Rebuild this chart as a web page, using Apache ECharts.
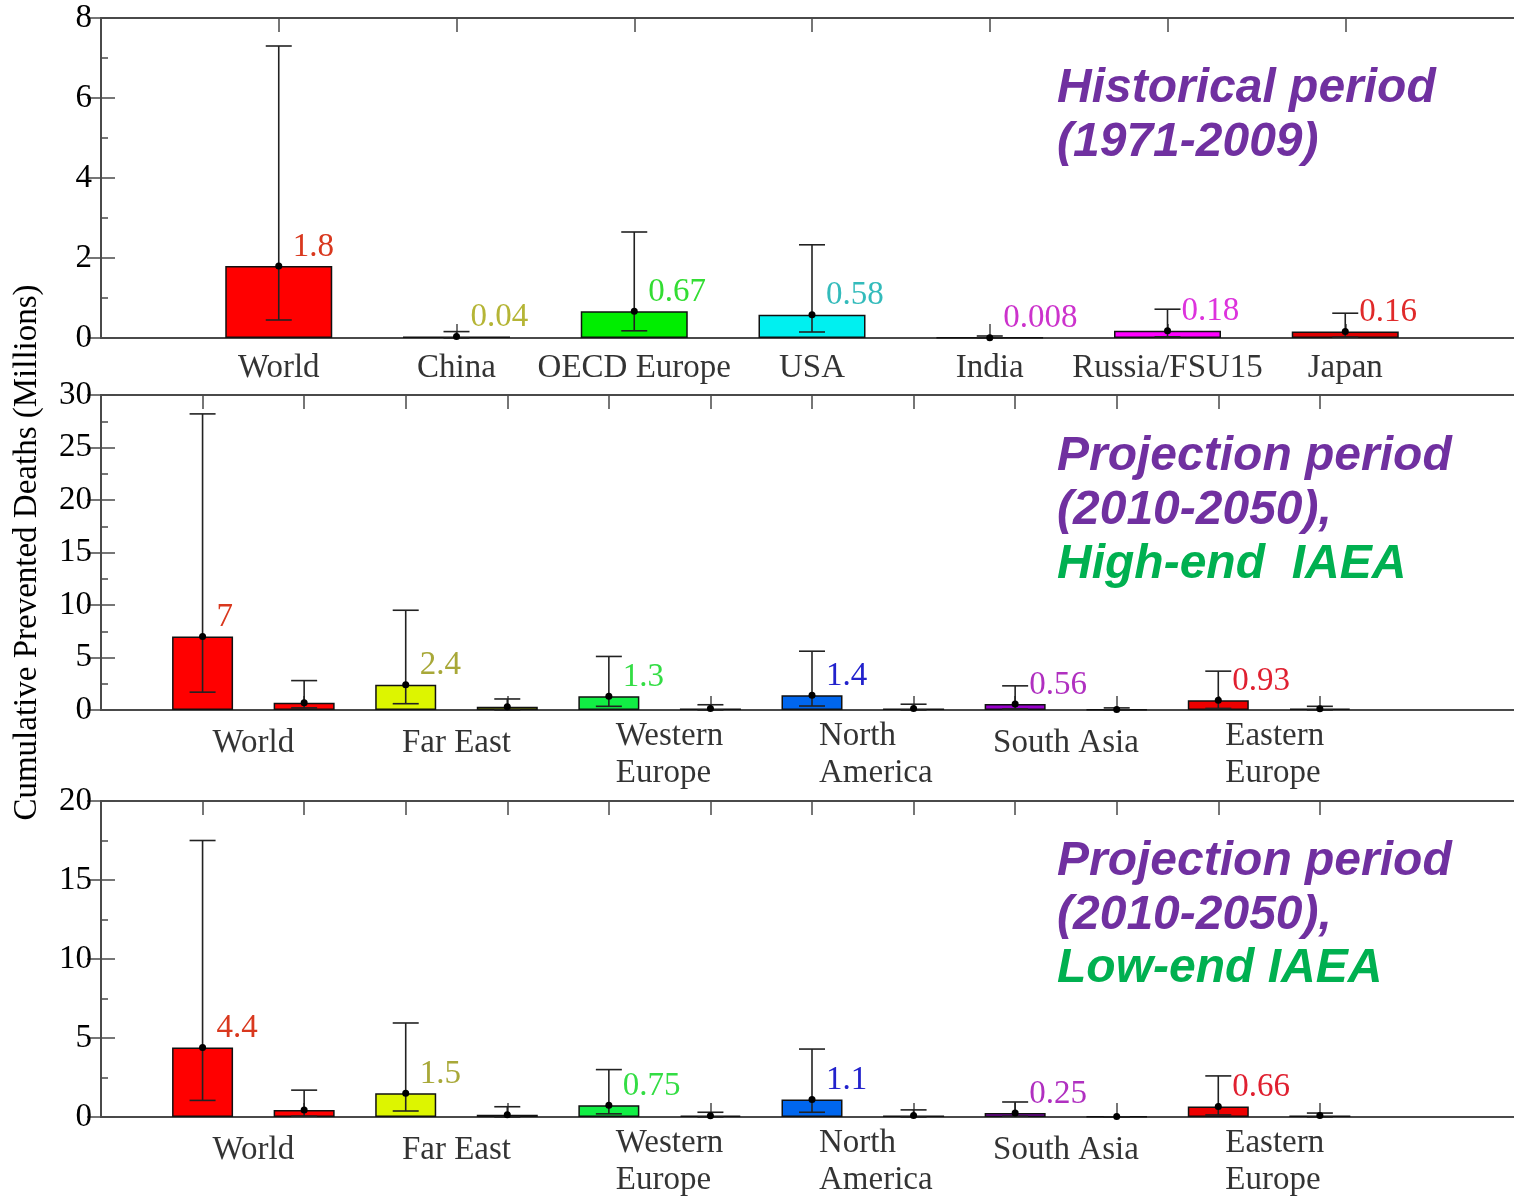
<!DOCTYPE html>
<html>
<head>
<meta charset="utf-8">
<script src="https://cdn.jsdelivr.net/npm/echarts@6/dist/echarts.min.js"></script>
<style>
html, body { margin: 0; padding: 0; background: #fff; overflow: hidden; }
#main { width: 1524px; height: 1197px; }
</style>
</head>
<body>
<div id="main"></div>
<script>
// 历史时期 (1971-2009)
var histNames = ['World', 'China', 'OECD Europe', 'USA', 'India', 'Russia/FSU15', 'Japan'];
var histValues = [1.8, 0.04, 0.67, 0.58, 0.008, 0.18, 0.16];
var histLow = [0.45, 0, 0.18, 0.15, 0, 0.03, 0.02];
var histHigh = [7.3, 0.16, 2.65, 2.33, 0.05, 0.72, 0.62];
var histColors = ['#ff0000', '#cccc00', '#00ee00', '#00f0f0', '#cc00cc', '#ff00ff', '#dd0000'];
var histLabelColors = ['#d9381e', '#b5b536', '#33dd33', '#33bbbb', '#cc33cc', '#dd33dd', '#e02a2a'];

// 预测时期地区
var regionNames = ['World', 'Far East', 'Western\nEurope', 'North\nAmerica', 'South Asia', 'Eastern\nEurope'];
var regionColors = ['#ff0000', '#ddf500', '#11ee44', '#0066ee', '#9900cc', '#ee0000'];
var regionLabelColors = ['#d9381e', '#a8a838', '#33dd44', '#2222cc', '#b030c0', '#e02030'];

// High-end IAEA
var highValues = [7, 2.4, 1.3, 1.4, 0.56, 0.93];
var highLow = [1.7, 0.6, 0.35, 0.38, 0.1, 0.15];
var highHigh = [28.2, 9.5, 5.1, 5.6, 2.3, 3.7];
var high2Values = [0.7, 0.3, 0.15, 0.15, 0.05, 0.12];
var high2Low = [0.2, 0, 0, 0, 0, 0];
var high2High = [2.8, 1.05, 0.5, 0.55, 0.2, 0.35];

// Low-end IAEA
var lowValues = [4.4, 1.5, 0.75, 1.1, 0.25, 0.66];
var lowLow = [1.05, 0.38, 0.2, 0.3, 0.05, 0.13];
var lowHigh = [17.5, 5.95, 3.0, 4.3, 0.95, 2.6];
var low2Values = [0.45, 0.15, 0.08, 0.1, 0.03, 0.1];
var low2Low = [0.05, 0, 0, 0, 0, 0];
var low2High = [1.7, 0.65, 0.3, 0.45, 0, 0.25];

var axisColor = '#4a4a4a';
var textColor = '#000';
var serif = '"Liberation Serif", "Times New Roman", serif';
var sans = '"Liberation Sans", Arial, sans-serif';
var fs = 33;

var chart = echarts.init(document.getElementById('main'));

// 误差线
var errorBarItem = function(params, api) {
	var x = api.value(0);
	var lo = api.coord([x, api.value(1)]);
	var hi = api.coord([x, api.value(2)]);
	var mid = api.coord([x, api.value(3)]);
	var hw = 13;
	var st = { stroke: '#222', lineWidth: 1.6 };
	return {
		type: 'group',
		children: [
			{ type: 'line', shape: { x1: hi[0], y1: hi[1], x2: lo[0], y2: lo[1] }, style: st },
			{ type: 'line', shape: { x1: hi[0] - hw, y1: hi[1], x2: hi[0] + hw, y2: hi[1] }, style: st },
			{ type: 'line', shape: { x1: lo[0] - hw, y1: lo[1], x2: lo[0] + hw, y2: lo[1] }, style: st },
			{ type: 'circle', shape: { cx: mid[0], cy: mid[1], r: 3.5 }, style: { fill: '#000' } }
		]
	};
};

var xAxesFor = function(gi, max, ticks) {
	var mk = function(pos) {
		return {
			type: 'value', gridIndex: gi, min: 0, max: max, position: pos,
			axisLine: { show: true, onZero: false, lineStyle: { color: axisColor, width: 2 } },
			axisTick: { show: true, inside: true, length: 14, customValues: ticks, lineStyle: { color: axisColor, width: 1.5 } },
			axisLabel: { show: false },
			splitLine: { show: false }
		};
	};
	return [mk('bottom'), mk('top')];
};

var yAxesFor = function(gi, max, interval, name) {
	var left = {
		type: 'value', gridIndex: gi, min: 0, max: max, interval: interval, position: 'left',
		axisLine: { show: true, lineStyle: { color: axisColor, width: 2 } },
		axisTick: { show: true, inside: true, length: 14, lineStyle: { color: axisColor, width: 1.5 } },
		minorTick: { show: true, splitNumber: 2, length: 7, lineStyle: { color: axisColor, width: 1.5 } },
		axisLabel: { show: true, margin: 9, color: textColor, fontFamily: serif, fontSize: fs },
		splitLine: { show: false }
	};
	if(name) {
		left.name = name;
		left.nameLocation = 'middle';
		left.nameGap = 57;
		left.nameTextStyle = { color: textColor, fontFamily: serif, fontSize: fs };
	}
	var right = {
		type: 'value', gridIndex: gi, min: 0, max: max, interval: interval, position: 'right',
		axisLine: { show: true, lineStyle: { color: axisColor, width: 2 } },
		axisTick: { show: true, inside: true, length: 14, lineStyle: { color: axisColor, width: 1.5 } },
		axisLabel: { show: false },
		splitLine: { show: false }
	};
	return [left, right];
};

var barItem = function(x, v, color, labelColor) {
	return {
		value: [x, v],
		itemStyle: { color: color },
		label: labelColor ? { show: true, color: labelColor } : { show: false }
	};
};

var barSeries = function(gi, data, width) {
	return {
		type: 'bar',
		xAxisIndex: gi * 2, yAxisIndex: gi * 2,
		barWidth: width, barGap: '-100%',
		itemStyle: { borderColor: '#111', borderWidth: 1.5 },
		label: {
			position: [width / 2 + 14, -19], align: 'left', verticalAlign: 'middle',
			fontFamily: serif, fontSize: fs,
			formatter: function(p) { return String(p.value[1]); }
		},
		data: data,
		z: 2
	};
};

var errSeries = function(gi, data) {
	return {
		type: 'custom',
		xAxisIndex: gi * 2, yAxisIndex: gi * 2,
		renderItem: errorBarItem,
		encode: { x: 0, y: [1, 2, 3] },
		data: data,
		z: 4
	};
};

var nameSeries = function(gi, data) {
	return {
		type: 'scatter',
		xAxisIndex: gi * 2, yAxisIndex: gi * 2,
		symbolSize: 0,
		silent: true,
		data: data,
		label: {
			show: true, position: 'inside', color: textColor,
			fontFamily: serif, fontSize: fs, lineHeight: 37,
			formatter: function(p) { return p.data.name; }
		},
		z: 5
	};
};

// 第一面板
var histBars = [], histErr = [], histLabels = [];
for(var i = 0; i < histNames.length; i++) {
	histBars.push(barItem(i + 1, histValues[i], histColors[i], histLabelColors[i]));
	histErr.push([i + 1, histLow[i], histHigh[i], histValues[i]]);
	histLabels.push({ name: histNames[i], value: [i + 1, 0], label: { offset: [0, 30], align: 'center', verticalAlign: 'middle' } });
}

// 预测面板数据构建
var buildProj = function(mainV, mainLo, mainHi, secV, secLo, secHi) {
	var bars1 = [], bars2 = [], err = [], labels = [];
	for(var i = 0; i < regionNames.length; i++) {
		var x1 = 2 * i + 1, x2 = 2 * i + 2;
		bars1.push(barItem(x1, mainV[i], regionColors[i], regionLabelColors[i]));
		bars2.push(barItem(x2, secV[i], regionColors[i], null));
		err.push([x1, mainLo[i], mainHi[i], mainV[i]]);
		err.push([x2, secLo[i], secHi[i], secV[i]]);
		if(regionNames[i].indexOf('\n') >= 0) {
			labels.push({ name: regionNames[i], value: [x1, 0], label: { offset: [7, 45], align: 'left', verticalAlign: 'middle' } });
		} else {
			labels.push({ name: regionNames[i], value: [x1 + 0.5, 0], label: { offset: [0, 33], align: 'center', verticalAlign: 'middle' } });
		}
	}
	return { bars1: bars1, bars2: bars2, err: err, labels: labels };
};
var high = buildProj(highValues, highLow, highHigh, high2Values, high2Low, high2High);
var low = buildProj(lowValues, lowLow, lowHigh, low2Values, low2Low, low2High);

var histTicks = [1, 2, 3, 4, 5, 6, 7];
var projTicks = [1, 2, 3, 4, 5, 6, 7, 8, 9, 10, 11, 12];

var annot = function(top, lines, color) {
	return {
		type: 'text', left: 1057, top: top, z: 10,
		style: { text: lines, font: 'italic bold 48px ' + sans, fill: color, lineHeight: 54 }
	};
};

var option = {
	backgroundColor: '#fff',
	animation: false,
	grid: [
		{ left: 101, top: 18, right: 1, height: 320 },
		{ left: 101, top: 395, right: 1, height: 315 },
		{ left: 101, top: 801, right: 1, height: 316 }
	],
	xAxis: [].concat(xAxesFor(0, 8, histTicks), xAxesFor(1, 14, projTicks), xAxesFor(2, 14, projTicks)),
	yAxis: [].concat(
		yAxesFor(0, 8, 2),
		yAxesFor(1, 30, 5, 'Cumulative Prevented Deaths (Millions)'),
		yAxesFor(2, 20, 5)
	),
	series: [
		barSeries(0, histBars, 107),
		errSeries(0, histErr),
		nameSeries(0, histLabels),
		barSeries(1, high.bars1, 61),
		barSeries(1, high.bars2, 61),
		errSeries(1, high.err),
		nameSeries(1, high.labels),
		barSeries(2, low.bars1, 61),
		barSeries(2, low.bars2, 61),
		errSeries(2, low.err),
		nameSeries(2, low.labels)
	],
	graphic: [
		annot(62, 'Historical period\n(1971-2009)', '#7030a0'),
		annot(430, 'Projection period\n(2010-2050),', '#7030a0'),
		annot(538, 'High-end  IAEA', '#00b050'),
		annot(835, 'Projection period\n(2010-2050),', '#7030a0'),
		annot(942, 'Low-end IAEA', '#00b050')
	]
};
chart.setOption(option);
</script>
</body>
</html>
